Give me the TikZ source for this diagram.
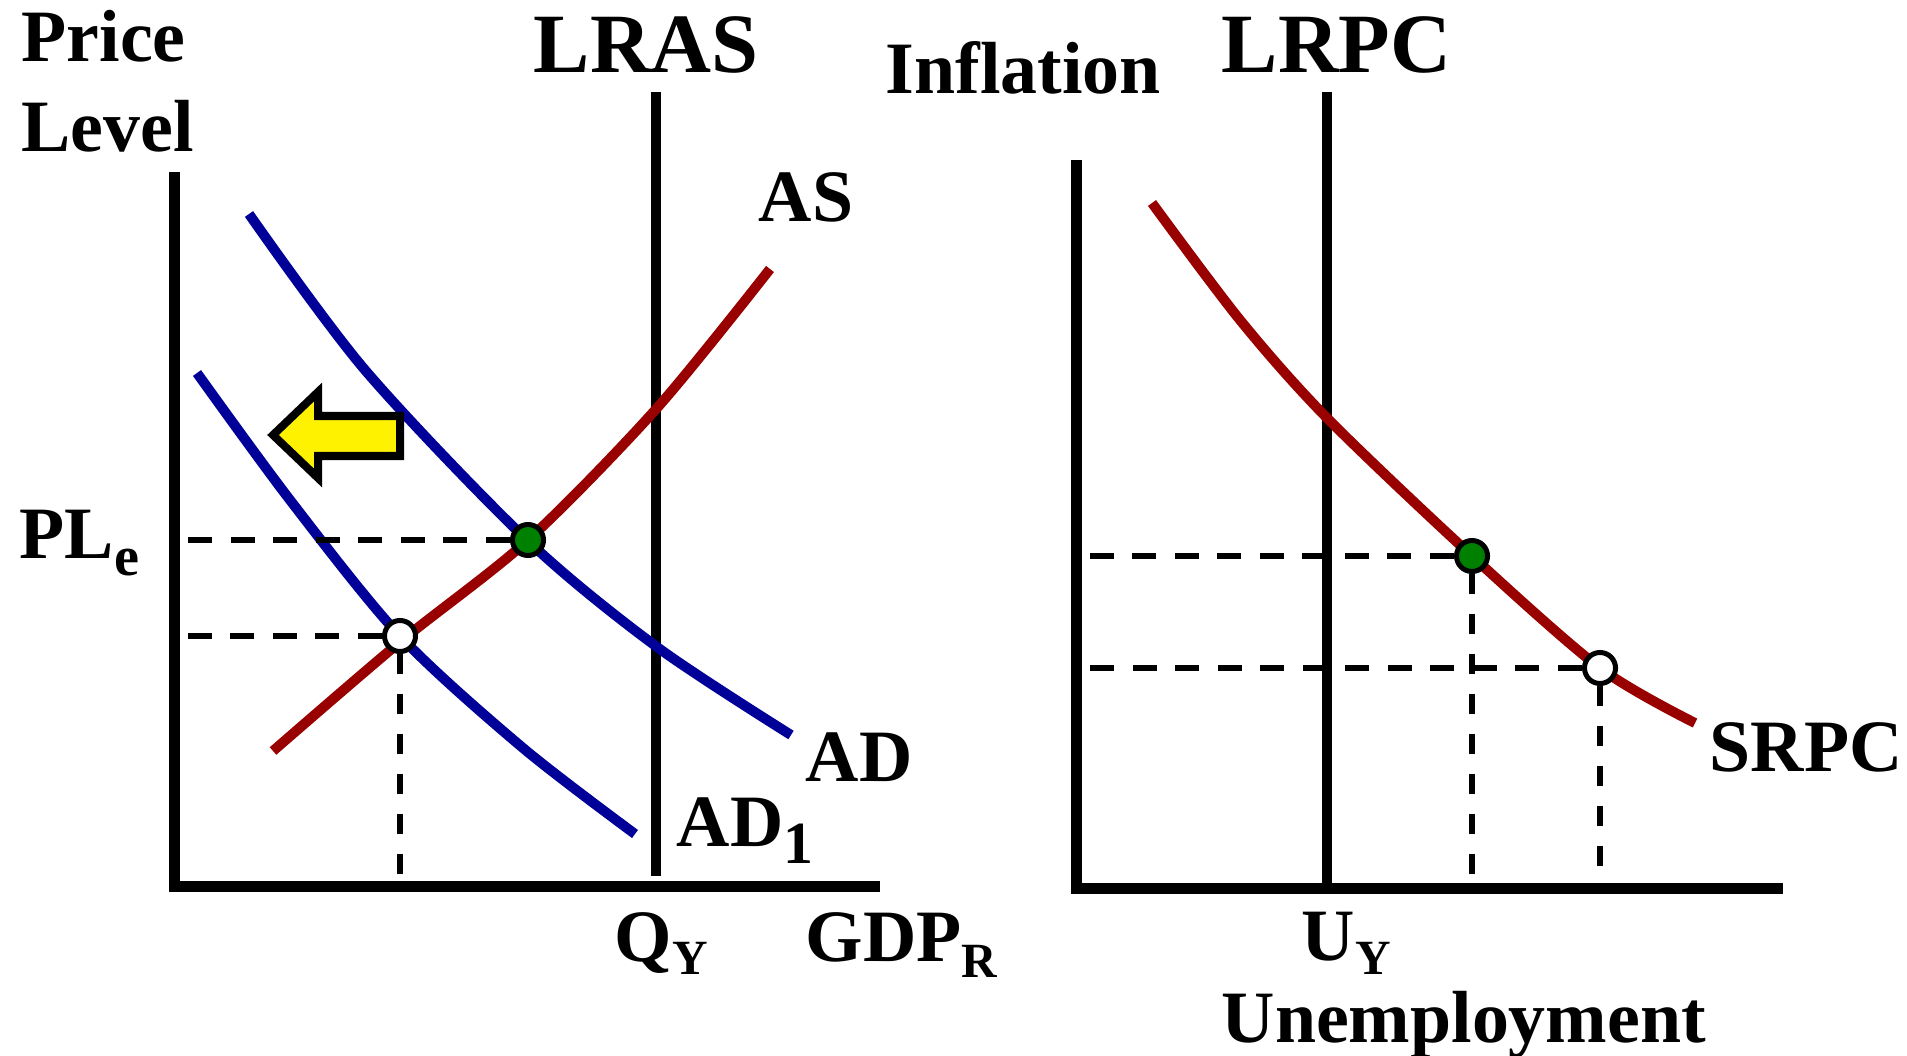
\documentclass[tikz,border=0pt]{standalone}
\usepackage{fontspec}
\setmainfont{Liberation Serif}
\usetikzlibrary{calc}

\definecolor{adblue}{RGB}{0,0,153}
\definecolor{asred}{RGB}{153,0,0}
\definecolor{dotgreen}{RGB}{0,128,0}
\newcommand{\lowsub}[3]{\raisebox{-#1}{\fontsize{#2}{#2}\selectfont #3}}

\begin{document}
\begin{tikzpicture}[
  x=0.01cm,y=-0.01cm,
  axis/.style={line width=0.11cm},
  longrun/.style={line width=0.095cm},
  demand/.style={adblue,line width=0.1cm},
  supply/.style={asred,line width=0.1cm},
  guide/.style={dash pattern=on 0.24cm off 0.185cm,line width=0.065cm},
  vguide/.style={dash pattern=on 0.2cm off 0.2cm,line width=0.055cm},
  eqdot/.style={circle,draw,fill=dotgreen,line width=0.05cm,inner sep=0pt,minimum size=0.31cm},
  newdot/.style={eqdot,fill=white},
  lbl/.style={font=\bfseries\fontsize{21}{21}\selectfont,anchor=base west,inner sep=0pt},
  biglbl/.style={lbl,font=\bfseries\fontsize{24}{24}\selectfont}
]
  \useasboundingbox (0,0) rectangle (1907,1055);

  % AD-AS panel
  \coordinate (ltop) at (174,172);
  \coordinate (lo) at (174,886);
  \coordinate (lend) at (880,886);
  \draw[axis] (ltop) -- (lo) -- (lend);
  \coordinate (lrastop) at (656,92);
  \coordinate (lrasbot) at (656,876);
  \draw[longrun] (lrastop) -- (lrasbot);

  \draw[demand] plot[smooth] coordinates {(249,214) (365,370) (527,540) (657,647) (791,735)};
  \draw[demand] plot[smooth] coordinates {(197,373) (290,500) (400,636) (523,748) (635,834)};
  \draw[supply] plot[smooth] coordinates {(273,751) (400,642) (528,540) (657,408) (770,269)};

  \draw[line width=0.08cm,fill=yellow] (273,435) -- (318,392) -- (318,416) -- (400,416)
    -- (400,456) -- (318,456) -- (318,478) -- cycle;

  \node[eqdot] (e0) at (528,540) {};
  \node[newdot] (n0) at (400,636) {};
  \draw[guide] (e0) -- (e0 -| lo);
  \draw[guide] (n0) -- (n0 -| lo);
  \draw[vguide] (n0) -- (n0 |- lo);

  \node[lbl] (price) at (21,62) {Price};
  \node[lbl] (level) at (21,152) {Level};
  \node[biglbl] (lraslbl) at (533,73) {LRAS};
  \node[lbl] (aslbl) at (758,222) {AS};
  \node[lbl] (adlbl) at (805,781) {AD};
  \node[lbl] (ad1lbl) at (676,846) {AD\lowsub{5.1pt}{17}{1}};
  \node[lbl] (plelbl) at (19,558) {PL\lowsub{5.1pt}{16}{e}};
  \node[lbl] (qylbl) at (614,961) {Q\lowsub{3.7pt}{14}{Y}};
  \node[lbl] (gdplbl) at (805,961) {GDP\lowsub{4.6pt}{14}{R}};

  % Phillips curve panel
  \coordinate (rtop) at (1076,160);
  \coordinate (ro) at (1076,888);
  \coordinate (rend) at (1783,888);
  \coordinate (rgap) at (1088,888);
  \draw[axis] (rtop) -- (ro) -- (rend);
  \coordinate (lrpctop) at (1327,92);
  \coordinate (lrpcbot) at (1327,888);
  \draw[longrun] (lrpctop) -- (lrpcbot);

  \draw[supply] plot[smooth] coordinates {(1152,203) (1240,320) (1327,418) (1472,556) (1600,668) (1695,723)};

  \node[eqdot] (e1) at (1472,556) {};
  \node[newdot] (n1) at (1600,668) {};
  \draw[guide] (e1) -- (e1 -| rgap);
  \draw[guide] (n1) -- (n1 -| rgap);
  \draw[vguide] (e1) -- (e1 |- rgap);
  \draw[vguide] (n1) -- (n1 |- rgap);

  \node[lbl] (inflbl) at (885,94) {Inflation};
  \node[biglbl] (lrpclbl) at (1221,73) {LRPC};
  \node[lbl] (srpclbl) at (1709,771) {SRPC};
  \node[lbl] (uylbl) at (1301,960) {U\lowsub{4pt}{14}{Y}};
  \node[lbl] (unemplbl) at (1221,1042) {Unemployment};
\end{tikzpicture}
\end{document}
